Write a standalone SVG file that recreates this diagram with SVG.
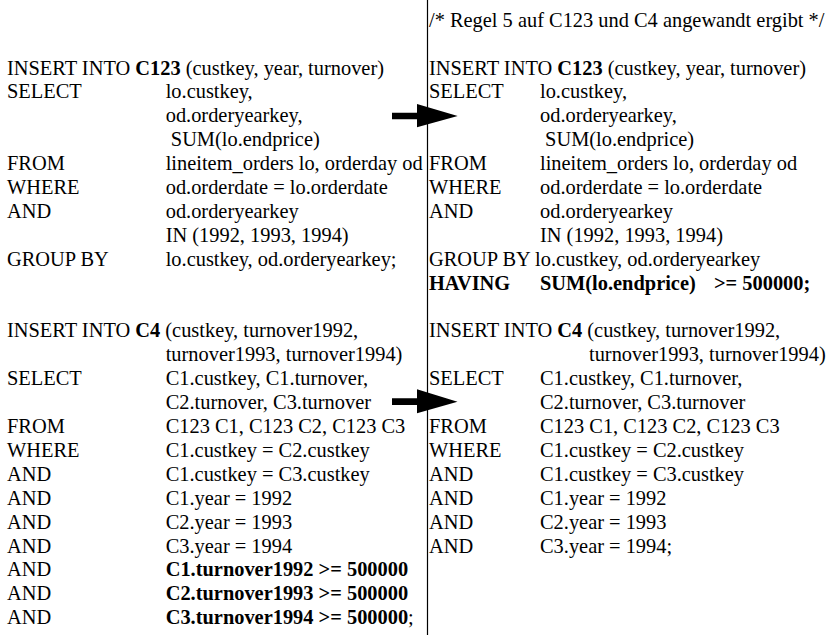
<svg xmlns="http://www.w3.org/2000/svg" width="829" height="635" viewBox="0 0 829 635">
  <style>
    text { font-family: "Liberation Serif", "Times New Roman", serif; font-size: 20.4px; fill: #000; }
    .b { font-weight: bold; }
    .divider { stroke: #000; stroke-width: 1.2; fill: none; }
    .arrow { fill: #000; stroke: none; }
  </style>
  <rect width="829" height="635" fill="#fff"/>

  <!-- divider between original and rewritten statements -->
  <line class="divider" x1="427.5" y1="0" x2="427.5" y2="635"/>

  <!-- original C123 statement -->
  <g id="c123-before">
    <text x="7" y="74.5">INSERT INTO <tspan class="b">C123</tspan> (custkey, year, turnover)</text>
    <text x="7" y="98.4">SELECT</text>
    <text x="165.7" y="98.4">lo.custkey,</text>
    <text x="165.7" y="122.3">od.orderyearkey,</text>
    <text x="170.8" y="146.2">SUM(lo.endprice)</text>
    <text x="7" y="170.1">FROM</text>
    <text x="165.7" y="170.1">lineitem_orders lo, orderday od</text>
    <text x="7" y="194">WHERE</text>
    <text x="165.7" y="194">od.orderdate = lo.orderdate</text>
    <text x="7" y="217.9">AND</text>
    <text x="165.7" y="217.9">od.orderyearkey</text>
    <text x="165.7" y="241.8">IN (1992, 1993, 1994)</text>
    <text x="7" y="265.7">GROUP BY</text>
    <text x="165.7" y="265.7">lo.custkey, od.orderyearkey;</text>
  </g>

  <!-- original C4 statement -->
  <g id="c4-before">
    <text x="7" y="337.4">INSERT INTO <tspan class="b">C4</tspan> (custkey, turnover1992,</text>
    <text x="165.7" y="361.3">turnover1993, turnover1994)</text>
    <text x="7" y="385.2">SELECT</text>
    <text x="165.7" y="385.2">C1.custkey, C1.turnover,</text>
    <text x="165.7" y="409.1">C2.turnover, C3.turnover</text>
    <text x="7" y="433">FROM</text>
    <text x="165.7" y="433">C123 C1, C123 C2, C123 C3</text>
    <text x="7" y="456.9">WHERE</text>
    <text x="165.7" y="456.9">C1.custkey = C2.custkey</text>
    <text x="7" y="480.8">AND</text>
    <text x="165.7" y="480.8">C1.custkey = C3.custkey</text>
    <text x="7" y="504.7">AND</text>
    <text x="165.7" y="504.7">C1.year = 1992</text>
    <text x="7" y="528.6">AND</text>
    <text x="165.7" y="528.6">C2.year = 1993</text>
    <text x="7" y="552.5">AND</text>
    <text x="165.7" y="552.5">C3.year = 1994</text>
    <text x="7" y="576.4">AND</text>
    <text x="165.7" y="576.4" class="b">C1.turnover1992 &gt;= 500000</text>
    <text x="7" y="600.3">AND</text>
    <text x="165.7" y="600.3" class="b">C2.turnover1993 &gt;= 500000</text>
    <text x="7" y="624.2">AND</text>
    <text x="165.7" y="624.2"><tspan class="b">C3.turnover1994 &gt;= 500000</tspan>;</text>
  </g>

  <!-- heading comment of the rewritten side -->
  <g id="comment">
    <text x="429" y="26.7">/* Regel 5 auf C123 und C4 angewandt ergibt */</text>
  </g>

  <!-- rewritten C123 statement -->
  <g id="c123-after">
    <text x="429" y="74.5">INSERT INTO <tspan class="b">C123</tspan> (custkey, year, turnover)</text>
    <text x="429" y="98.4">SELECT</text>
    <text x="540" y="98.4">lo.custkey,</text>
    <text x="540" y="122.3">od.orderyearkey,</text>
    <text x="545.1" y="146.2">SUM(lo.endprice)</text>
    <text x="429" y="170.1">FROM</text>
    <text x="540" y="170.1">lineitem_orders lo, orderday od</text>
    <text x="429" y="194">WHERE</text>
    <text x="540" y="194">od.orderdate = lo.orderdate</text>
    <text x="429" y="217.9">AND</text>
    <text x="540" y="217.9">od.orderyearkey</text>
    <text x="540" y="241.8">IN (1992, 1993, 1994)</text>
    <text x="429" y="265.7">GROUP BY lo.custkey, od.orderyearkey</text>
    <text x="429" y="289.6" class="b">HAVING</text>
    <text x="540" y="289.6" class="b">SUM(lo.endprice)</text>
    <text x="714" y="289.6" class="b">&gt;= 500000;</text>
  </g>

  <!-- rewritten C4 statement -->
  <g id="c4-after">
    <text x="429" y="337.4">INSERT INTO <tspan class="b">C4</tspan> (custkey, turnover1992,</text>
    <text x="589" y="361.3">turnover1993, turnover1994)</text>
    <text x="429" y="385.2">SELECT</text>
    <text x="540" y="385.2">C1.custkey, C1.turnover,</text>
    <text x="540" y="409.1">C2.turnover, C3.turnover</text>
    <text x="429" y="433">FROM</text>
    <text x="540" y="433">C123 C1, C123 C2, C123 C3</text>
    <text x="429" y="456.9">WHERE</text>
    <text x="540" y="456.9">C1.custkey = C2.custkey</text>
    <text x="429" y="480.8">AND</text>
    <text x="540" y="480.8">C1.custkey = C3.custkey</text>
    <text x="429" y="504.7">AND</text>
    <text x="540" y="504.7">C1.year = 1992</text>
    <text x="429" y="528.6">AND</text>
    <text x="540" y="528.6">C2.year = 1993</text>
    <text x="429" y="552.5">AND</text>
    <text x="540" y="552.5">C3.year = 1994;</text>
  </g>

  <!-- block arrows from each original statement to its rewrite -->
  <g id="connectors">
    <path class="arrow" d="M392,112.7 H417 V104 L457.7,116 L417,127.3 V119.3 H392 Z"/>
    <path class="arrow" d="M392,398.3 H417 V389.3 L457.5,401.7 L417,413.3 V405 H392 Z"/>
  </g>
</svg>
